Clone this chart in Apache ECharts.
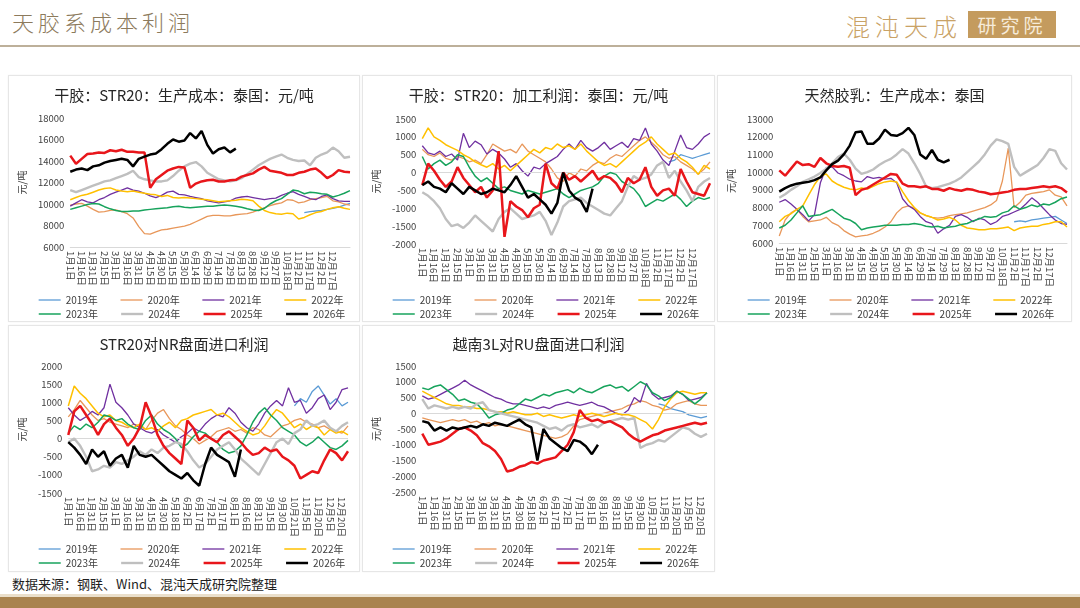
<!DOCTYPE html>
<html>
<head>
<meta charset="utf-8">
<title>天胶系成本利润</title>
<script src="https://cdn.jsdelivr.net/npm/echarts@6.0.0/dist/echarts.min.js"></script>
<style>
  body { margin: 0; width: 1080px; height: 608px; background: #fff; position: relative; overflow: hidden;
         font-family: "Noto Sans CJK SC", "Noto Sans", sans-serif; }
  #head-title { position: absolute; left: 12px; top: 5px; font-size: 22px; letter-spacing: 4px; color: #8C7A5C; font-weight: 300; }
  #logo-a { position: absolute; left: 846px; top: 8px; font-size: 24px; letter-spacing: 5px; color: #C9A266; font-weight: 300; }
  #logo-b { position: absolute; left: 968px; top: 11px; width: 88px; height: 27px; line-height: 27px; background: #C49B5E;
            color: #F6EBDA; font-size: 19px; letter-spacing: 4px; text-align: center; }
  #head-line { position: absolute; left: 0; top: 45px; width: 1080px; height: 2px; background: #BDB09A; }
  .panel { position: absolute; box-sizing: border-box; border: 1px solid #E6E6E6; box-shadow: 0 0 2px rgba(0,0,0,0.05); }
  .chart { position: absolute; left: 0; top: 0; width: 100%; height: 100%; }
  #src { position: absolute; left: 12px; top: 574px; font-size: 13px; color: #1E1E1E; }
  #foot-light { position: absolute; left: 0; top: 594px; width: 1080px; height: 3px; background: #EADFCB; }
  #foot { position: absolute; left: 0; top: 597px; width: 1080px; height: 11px; background: #A9834F; }
</style>
</head>
<body>
<div id="head-title">天胶系成本利润</div>
<div id="logo-a">混沌天成</div>
<div id="logo-b">研究院</div>
<div id="head-line"></div>

<div class="panel" style="left:8px;top:75px;width:352px;height:247px;"><div class="chart" id="c1"></div></div>
<div class="panel" style="left:362px;top:75px;width:353px;height:247px;"><div class="chart" id="c2"></div></div>
<div class="panel" style="left:717px;top:75px;width:355px;height:247px;"><div class="chart" id="c3"></div></div>
<div class="panel" style="left:8px;top:325px;width:352px;height:247px;"><div class="chart" id="c4"></div></div>
<div class="panel" style="left:362px;top:325px;width:353px;height:247px;"><div class="chart" id="c5"></div></div>

<div id="src">数据来源：钢联、Wind、混沌天成研究院整理</div>
<div id="foot-light"></div>
<div id="foot"></div>

<script>
// 年份与样式
var yearNames = ['2019年', '2020年', '2021年', '2022年', '2023年', '2024年', '2025年', '2026年'];
var yearColors = ['#5B9BD5', '#E8975A', '#7030A0', '#FFC000', '#17A35C', '#BFBFBF', '#E8161B', '#000000'];
var yearWidths = [1.3, 1.3, 1.3, 1.5, 1.5, 2.4, 2.5, 2.5];

// x轴刻度标签（每两个点一个标签）
var labelsA = ['1月1日', '1月16日', '1月31日', '2月15日', '3月1日', '3月16日', '3月31日', '4月15日', '4月30日',
  '5月15日', '5月30日', '6月14日', '6月29日', '7月14日', '7月29日', '8月13日', '8月28日', '9月12日', '9月27日',
  '10月18日', '11月2日', '11月17日', '12月2日', '12月17日'];
var labelsB = ['1月1日', '1月16日', '1月31日', '2月15日', '3月1日', '3月16日', '3月31日', '4月15日', '4月30日',
  '5月18日', '6月2日', '6月17日', '7月2日', '7月17日', '8月1日', '8月16日', '8月31日', '9月15日', '9月30日',
  '10月21日', '11月5日', '11月20日', '12月5日', '12月20日'];

// 干胶：STR20：生产成本：泰国
var p1_2019_start = 41;
var p1_2019 = [9200, 9300, 9350, 9400, 9500, 9600, 9700, 9900, 10050];
var p1_2020 = [9900, 10000, 10050, 9800, 9500, 9250, 9300, 9400, 9450, 9300,
  9100, 8700, 7900, 7250, 7200, 7400, 7600, 7650, 7750, 7850,
  7950, 8100, 8350, 8600, 8850, 8950, 8950, 8900, 8900, 9000,
  9050, 9100, 9250, 9450, 9650, 9850, 10000, 10100, 10400, 10350,
  10100, 10200, 10400, 10500, 10600, 10700, 10300, 10200, 10000, 9900];
var p1_2021 = [9800, 10100, 10400, 10200, 10100, 10400, 10600, 10900, 11100, 11300,
  11500, 11300, 11200, 11000, 10750, 10600, 10800, 11100, 11200, 10900,
  10850, 10700, 10600, 10500, 10300, 10200, 10100, 10200, 10300, 10550,
  10650, 10700, 10600, 10500, 10400, 10500, 10550, 10800, 11000, 11150,
  10900, 10700, 10500, 10400, 10700, 10850, 10500, 10300, 10250, 10250];
var p1_2022 = [10400, 10600, 10800, 10900, 11100, 11300, 11450, 11500, 11300, 11200,
  11150, 11200, 11100, 11000, 10900, 10850, 10700, 10800, 10600, 10550,
  10600, 10550, 10500, 10450, 10400, 10300, 10200, 10250, 10300, 10350,
  10450, 10400, 10300, 9800, 9400, 9200, 9100, 9050, 9150, 9100,
  8600, 8750, 9000, 9200, 9300, 9500, 9650, 9750, 9600, 9500];
var p1_2023 = [9500, 9650, 9800, 9950, 10050, 10000, 9750, 9550, 9400, 9300,
  9300, 9350, 9350, 9450, 9500, 9550, 9600, 9650, 9750, 9800,
  9700, 9650, 9700, 9750, 9800, 9800, 9850, 9900, 9850, 9800,
  9700, 9550, 9450, 9400, 9600, 10000, 10300, 10500, 10900, 11300,
  11200, 10950, 11100, 11050, 10950, 10900, 10650, 10800, 11000, 11250];
var p1_2024 = [11300, 11100, 11300, 11500, 11700, 11900, 12100, 12200, 12400, 12600,
  12800, 13100, 12500, 12300, 12200, 12100, 12100, 12200, 12600, 13100,
  13500, 13750, 13900, 13500, 12900, 12600, 12300, 12200, 12100, 12200,
  12400, 12800, 13200, 13600, 13900, 14200, 14400, 14600, 14300, 14100,
  14000, 14050, 13600, 14300, 14600, 14800, 15250, 14900, 14300, 14400];
var p1_2025 = [14500, 13750, 14200, 14650, 14700, 14800, 14750, 15000, 14900, 15050,
  14850, 14850, 14800, 14800, 11500, 12300, 12700, 13100, 13300, 13450,
  13400, 11500, 11900, 12100, 12200, 12250, 12100, 12100, 12200, 12250,
  12550, 12700, 12850, 13200, 13450, 13100, 13000, 12900, 12700, 12700,
  12900, 13000, 13200, 13300, 12900, 12400, 12700, 13150, 13000, 12950];
var p1_2026 = [13000, 13200, 13300, 13150, 13500, 13600, 13850, 14000, 14100, 14200,
  14100, 13500, 14200, 14400, 14600, 14700, 15100, 15600, 16000, 15800,
  15900, 16600, 16100, 16800, 15500, 14700, 15100, 15250, 14800, 15150];

// 干胶：STR20：加工利润：泰国
var p2_2019_start = 42;
var p2_2019 = [300, 350, 500, 450, 400, 450, 500, 550];
var p2_2020 = [650, 500, 450, 550, 400, 350, 450, 400, 300, 350,
  250, 500, 800, 700, 600, 650, 550, 800, 600, 500,
  400, 300, 100, -150, -250, 0, -100, 100, 50, 200,
  300, 250, 400, 500, 450, 600, 750, 900, 1000, 850,
  700, 500, 400, 450, 300, 200, 100, -50, 100, 300];
var p2_2021 = [750, 550, 500, 600, 450, 520, 350, 1100, 700, 880,
  780, 520, 650, 550, 380, 150, 250, 50, -100, 150,
  100, 250, 350, 450, 650, 800, 650, 900, 700, 600,
  700, 850, 650, 750, 850, 700, 950, 900, 1250, 800,
  600, 350, 200, 600, 1050, 700, 650, 800, 1000, 1100];
var p2_2022 = [950, 1250, 1000, 900, 780, 700, 620, 500, 420, 300,
  220, 150, 250, 100, 200, 50, 200, 350, 500, 650,
  550, 700, 650, 800, 700, 750, 650, 800, 600, 450,
  300, 200, 250, 150, 300, 450, 600, 750, 850, 1000,
  800, 650, 500, 550, 400, 300, 150, -50, 200, 100];
var p2_2023 = [450, 100, 250, 350, 200, 300, 500, 450, 150, -100,
  -250, -150, -300, -450, -400, -500, -550, -600, -500, -550,
  -600, -550, -500, -450, -600, -700, -600, -500, -450, -400,
  -300, -100, 0, -50, -250, -350, -450, -650, -950, -850,
  -750, -800, -700, -600, -750, -950, -800, -700, -750, -700];
var p2_2024 = [-550, -650, -800, -1000, -1300, -1500, -1450, -1550, -1400, -1200,
  -1350, -1500, -1650, -1300, -1100, -1000, -1150, -1300, -1250, -1200,
  -1100, -1350, -1750, -1400, -950, -800, -750, -700, -850, -950,
  -1050, -1150, -1200, -1000, -800, -400, -100, -200, -150, -50,
  200, 300, -150, 50, -250, -500, -800, -400, -250, -150];
var p2_2025 = [-350, 250, 50, -200, -400, -250, 150, -150, -350, -550,
  -400, -700, -500, 600, -1800, -800, -950, -1050, -1250, -1000,
  -900, 250, -300, -450, 0, -200, -100, -250, -100, 50,
  -200, -100, -150, -300, -550, -150, -300, -200, 150, -400,
  -650, -500, -450, -650, 100, -250, -550, -600, -650, -300];
var p2_2026 = [-350, -250, -400, -450, -550, -300, -450, -600, -400, -500,
  -600, -550, -450, -500, -550, -350, -100, -400, -700, -600,
  -750, -900, -1150, -850, 0, -500, -700, -800, -1100, -450];

// 天然胶乳：生产成本：泰国
var p3_2019_start = 40;
var p3_2019 = [7200, 7250, 7200, 7300, 7350, 7400, 7450, 7500, 7300, 7100];
var p3_2020 = [6400, 7300, 7700, 7900, 7500, 7200, 7250, 7300, 7450, 7150,
  7000, 6700, 6500, 6350, 6400, 6450, 6550, 6700, 6900, 7200,
  7700, 8000, 8100, 7950, 7700, 7550, 7450, 7400, 7450, 7550,
  7600, 7650, 7700, 7800, 7900, 8000, 8150, 8400, 9500, 11350,
  8000, 8300, 8700, 8800, 8850, 8900, 9000, 8700, 8600, 8100];
var p3_2021 = [8300, 8450, 8200, 7900, 7600, 7250, 7600, 9400, 10250, 10300,
  9950, 9800, 9600, 9500, 9450, 9750, 9650, 9700, 9600, 9650,
  9400, 8500, 8100, 7900, 7500, 7200, 7100, 6550, 6800, 7000,
  7500, 7600, 7450, 7200, 7400, 7300, 7050, 7200, 7500, 7600,
  7750, 7900, 8200, 8550, 8300, 7950, 7600, 7300, 7100, 7050];
var p3_2022 = [7200, 7500, 7650, 7900, 8100, 8700, 9300, 9750, 9900, 9500,
  9300, 9150, 9050, 9000, 9100, 9050, 9200, 9350, 9450, 9500,
  9450, 8900, 8400, 8000, 7700, 7550, 7450, 7300, 7350, 7450,
  7300, 7000, 6850, 6800, 6750, 6750, 6800, 6800, 6850, 6900,
  6700, 6850, 6900, 6950, 6950, 7050, 7100, 7200, 7200, 6900];
var p3_2023 = [6850, 7000, 7300, 7700, 8100, 7500, 7550, 7600, 7750, 7900,
  7650, 7400, 7300, 7100, 6750, 6850, 6900, 6950, 7000, 7000,
  7000, 7050, 7050, 7100, 7050, 6950, 6900, 6950, 6850, 6900,
  6950, 7050, 7100, 7250, 7350, 7500, 7450, 7500, 7700, 7800,
  8100, 7900, 8000, 8150, 8050, 8200, 8150, 8300, 8500, 8600];
var p3_2024 = [8550, 8750, 9000, 9200, 9450, 9600, 9750, 9950, 10200, 10500,
  10850, 11050, 10700, 10200, 9900, 10000, 10150, 10400, 10600, 10750,
  11000, 11300, 11050, 10500, 9900, 9200, 9100, 9150, 9250, 9350,
  9500, 9700, 10000, 10300, 10600, 11000, 11500, 11850, 11750, 11600,
  10300, 9800, 10000, 10200, 10400, 10800, 11300, 11200, 10500, 10150];
var p3_2025 = [10100, 9800, 10200, 10600, 10400, 10450, 10300, 10800, 10500, 10350,
  10300, 10350, 10250, 8700, 9000, 9100, 9300, 9500, 9700, 9900,
  9850, 9350, 9200, 9200, 9150, 9200, 9050, 9050, 8950, 9100,
  9000, 8950, 9050, 9000, 8900, 8850, 8750, 8800, 8850, 8900,
  9000, 9050, 9050, 9100, 9150, 9200, 9150, 9200, 9100, 8850];
var p3_2026 = [8900, 9100, 9250, 9350, 9400, 9450, 9550, 9700, 10100, 10450,
  10650, 11000, 11500, 12250, 12300, 11600, 11600, 11900, 12400, 12100,
  12050, 12200, 12500, 12100, 11000, 10750, 11250, 10700, 10550, 10700];

// STR20对NR盘面进口利润
var p4_2019_start = 38;
var p4_2019 = [900, 1100, 1000, 1300, 1450, 1200, 950, 1100, 900, 1000];
var p4_2020 = [600, 800, 1050, 850, 650, 500, 550, 450, 400, 350,
  300, 400, 350, 250, 500, 700, 800, 550, 350, 250,
  100, 0, -150, -50, 50, 200, 250, 300, 200, 250,
  150, 300, 250, 100, 50, 200, 350, 400, 500, 550,
  450, 400, 300, 350, 250, 200, 150, 350];
var p4_2021 = [850, 650, 500, 600, 750, 650, 850, 1500, 1000, 850,
  650, 400, 300, 200, 150, 250, 100, 0, -100, 50,
  150, 300, 200, 400, 550, 650, 600, 850, 700, 450,
  300, 200, 400, 700, 900, 1050, 900, 1400, 1000, 1050,
  700, 850, 1100, 1200, 800, 1000, 1350, 1400];
var p4_2022 = [900, 1450, 1250, 1100, 900, 700, 600, 650, 500, 450,
  350, 300, 400, 250, 300, 200, 350, 450, 300, 500,
  550, 650, 700, 750, 800, 650, 700, 600, 450, 300,
  200, 100, 150, 350, 600, 800, 700, 500, 300, 400,
  250, 350, 300, 100, 250, 150, 200, 100];
var p4_2023 = [150, 350, 250, 400, 300, 450, 650, 600, 500, 550,
  400, 300, 250, 500, 650, 400, 250, 150, 0, -250,
  -150, 50, 200, 150, 0, -100, -300, -400, -350, -200,
  100, 450, 700, 850, 650, 500, 300, 200, 100, -100,
  -200, -100, 50, -100, -250, -300, -200, -50];
var p4_2024 = [-100, 0, -200, -500, -900, -850, -750, -800, -650, -700,
  -600, -500, -350, -450, -300, -400, -250, -200, -100, -150,
  -350, -600, -800, -700, -500, -300, -200, -100, -300, -550,
  -700, -850, -1000, -700, -400, -100, 0, -150, 150, 250,
  500, 350, 400, 500, 300, 200, 350, 450];
var p4_2025 = [100, 750, 900, 650, 400, 100, 400, 550, 300, 100,
  -200, 0, 300, 1000, 600, 100, -200, -400, -550, -700,
  500, 300, -50, 100, 0, -100, 100, 200, 50, -100,
  -300, -450, -400, -250, -350, -300, -500, -600, -750, -1100,
  -1000, -900, -950, -600, -300, -400, -600, -350];
var p4_2026 = [-100, -250, -450, -700, -300, -500, -350, -750, -550, -450,
  -800, -200, -450, -500, -450, -600, -750, -900, -1000, -1100,
  -950, -1150, -1300, -700, -250, -450, -550, -650, -1050, -300];

// 越南3L对RU盘面进口利润
var p5_2019_start = 39;
var p5_2019 = [300, 250, 150, 100, 50, -50, -100, -150, -100];
var p5_2020 = [-150, -200, -250, -300, -250, -200, -250, -200, -300, -250,
  -350, -300, -400, -350, -400, -450, -500, -550, -600, -650,
  -700, -750, -800, -750, -650, -400, -200, -150, -100, -50,
  0, 50, 100, 150, 250, 300, 400, 350, 250, 200,
  100, 150, 300, 350, 400, 300, 250, 250];
var p5_2021 = [550, 450, 500, 600, 700, 800, 900, 1050, 900, 800,
  700, 600, 500, 450, 350, 300, 300, 250, 200, 150,
  200, 150, 250, 300, 350, 300, 250, 300, 350, 250,
  200, 100, 0, -50, 100, 500, 350, 950, 600, 450,
  500, 550, 700, 600, 400, 450, 500, 650];
var p5_2022 = [700, 600, 500, 400, 300, 250, 250, 200, 200, 150,
  150, 100, 50, 50, 0, 50, 0, -50, -50, 0,
  -100, -50, -100, -150, -100, -50, -100, -50, 0, -50,
  -100, -50, 0, -50, -50, -100, -200, -300, -500, -200,
  200, 450, 650, 700, 650, 600, 650, 650];
var p5_2023 = [800, 750, 850, 900, 750, 600, 400, 450, 350, 300,
  100, -150, -50, 0, 100, 150, 300, 450, 400, 500,
  600, 550, 650, 700, 750, 650, 800, 700, 650, 750,
  850, 900, 800, 850, 700, 850, 1000, 900, 650, 550,
  400, 500, 700, 600, 450, 300, 450, 650];
var p5_2024 = [450, 150, 250, 200, 150, 200, 150, 200, 150, 300,
  350, 100, 50, 0, -50, -100, -150, -200, -250, -300,
  -400, -500, -450, -550, -400, -350, -450, -400, -350, -450,
  -300, -250, -200, -150, -200, -150, -1100, -1000, -950, -850,
  -900, -750, -600, -450, -500, -650, -750, -650];
var p5_2025 = [-650, -1000, -950, -900, -800, -650, -500, -450, -550, -700,
  -950, -1050, -1200, -1450, -1850, -1800, -1700, -1650, -1550, -1600,
  -1500, -1450, -1400, -1200, -1000, -600, 100, -150, -250, -200,
  -300, -250, -350, -450, -650, -800, -900, -800, -700, -650,
  -550, -500, -450, -400, -350, -300, -350, -300];
var p5_2026 = [-250, -300, -550, -450, -550, -450, -500, -450, -400, -450,
  -350, -400, -300, -350, -400, -300, -200, -350, -450, -1500,
  -500, -800, -950, -1100, -1200, -850, -900, -1050, -1300, -1000];

var panels = [
  { id: 'c1', title: '干胶：STR20：生产成本：泰国：元/吨', labels: labelsA, count: 50,
    min: 6000, max: 18000, step: 2000, zero: false, bottomLine: true,
    grid: { left: 47, right: 9, top: 42, bottom: 74 }, nameGap: 33, titleTop: 7, legendTop: 214,
    start2019: p1_2019_start, data: [p1_2019, p1_2020, p1_2021, p1_2022, p1_2023, p1_2024, p1_2025, p1_2026] },
  { id: 'c2', title: '干胶：STR20：加工利润：泰国：元/吨', labels: labelsA, count: 50,
    min: -2000, max: 1500, step: 500, zero: true, bottomLine: false,
    grid: { left: 48, right: 4, top: 43, bottom: 77 }, nameGap: 36, titleTop: 7, legendTop: 214,
    start2019: p2_2019_start, data: [p2_2019, p2_2020, p2_2021, p2_2022, p2_2023, p2_2024, p2_2025, p2_2026] },
  { id: 'c3', title: '天然胶乳：生产成本：泰国', labels: labelsA, count: 50,
    min: 6000, max: 13000, step: 1000, zero: false, bottomLine: true,
    grid: { left: 48, right: 4, top: 43, bottom: 78 }, nameGap: 36, titleTop: 7, legendTop: 214,
    start2019: p3_2019_start, data: [p3_2019, p3_2020, p3_2021, p3_2022, p3_2023, p3_2024, p3_2025, p3_2026] },
  { id: 'c4', title: 'STR20对NR盘面进口利润', labels: labelsB, count: 48,
    min: -1500, max: 2000, step: 500, zero: true, bottomLine: false,
    grid: { left: 47, right: 11, top: 40, bottom: 78 }, nameGap: 33, titleTop: 6, legendTop: 213,
    start2019: p4_2019_start, data: [p4_2019, p4_2020, p4_2021, p4_2022, p4_2023, p4_2024, p4_2025, p4_2026] },
  { id: 'c5', title: '越南3L对RU盘面进口利润', labels: labelsB, count: 48,
    min: -2500, max: 1500, step: 500, zero: true, bottomLine: false,
    grid: { left: 48, right: 7, top: 40, bottom: 79 }, nameGap: 33, titleTop: 6, legendTop: 213,
    start2019: p5_2019_start, data: [p5_2019, p5_2020, p5_2021, p5_2022, p5_2023, p5_2024, p5_2025, p5_2026] }
];

var FONT = '"Noto Sans CJK SC", "Noto Sans", sans-serif';

function padStart(start, arr) {
  var out = [];
  for (var i = 0; i < start; i++) out.push(null);
  return out.concat(arr);
}

function buildSeries(p) {
  return yearNames.map(function(name, k) {
    var vals = k === 0 ? padStart(p.start2019, p.data[k]) : p.data[k];
    var s = {
      name: name,
      type: 'line',
      data: vals,
      symbol: 'none',
      showSymbol: false,
      connectNulls: false,
      z: k + 2,
      lineStyle: { color: yearColors[k], width: yearWidths[k] },
      itemStyle: { color: yearColors[k] }
    };
    if (k === 0 && p.zero) {
      s.markLine = {
        silent: true,
        symbol: 'none',
        label: { show: false },
        lineStyle: { color: '#D9D9D9', width: 1, type: 'solid' },
        data: [{ yAxis: 0 }]
      };
    }
    return s;
  });
}

// 图例只画线段，不画圆点
function legendRow(names, top) {
  return {
    data: names,
    top: top,
    left: 24,
    itemWidth: 22,
    itemHeight: 10,
    itemGap: 22,
    selectedMode: false,
    itemStyle: { opacity: 0 },
    lineStyle: { width: 'inherit' },
    textStyle: { fontSize: 10, color: '#404040', fontFamily: FONT }
  };
}

panels.forEach(function(p) {
  var cats = [];
  for (var i = 0; i < p.count; i++) cats.push(String(i));
  var chart = echarts.init(document.getElementById(p.id));
  chart.setOption({
    animation: false,
    title: {
      text: p.title,
      left: 'center',
      top: p.titleTop,
      textStyle: { fontSize: 15, fontWeight: 'normal', color: '#262626', fontFamily: FONT }
    },
    legend: [
      legendRow(yearNames.slice(0, 4), p.legendTop),
      legendRow(yearNames.slice(4, 8), p.legendTop + 14)
    ],
    grid: p.grid,
    xAxis: {
      type: 'category',
      data: cats,
      boundaryGap: false,
      axisTick: { show: false },
      axisLine: { show: p.bottomLine, onZero: false, lineStyle: { color: '#D9D9D9' } },
      axisLabel: {
        interval: 0,
        rotate: -90,
        margin: 4,
        fontSize: 9.5,
        color: '#404040',
        fontFamily: FONT,
        formatter: function(v, idx) {
          return (idx % 2 === 0 && idx / 2 < p.labels.length) ? p.labels[idx / 2] : '';
        }
      },
      splitLine: { show: false }
    },
    yAxis: {
      type: 'value',
      min: p.min,
      max: p.max,
      interval: p.step,
      name: '元/吨',
      nameLocation: 'middle',
      nameRotate: 90,
      nameGap: p.nameGap,
      nameTextStyle: { fontSize: 10, color: '#404040', fontFamily: FONT },
      axisLine: { show: false },
      axisTick: { show: false },
      splitLine: { show: false },
      axisLabel: {
        fontSize: 9.5,
        color: '#404040',
        margin: 6,
        fontFamily: FONT,
        formatter: function(v) { return String(v); }
      }
    },
    series: buildSeries(p)
  });
});
</script>
</body>
</html>
